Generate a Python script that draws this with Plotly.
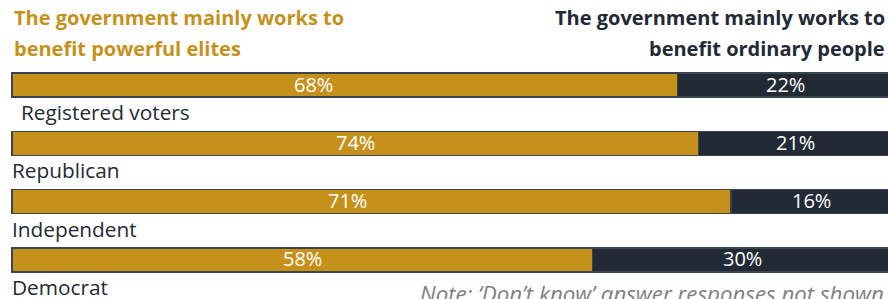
import plotly.graph_objects as go

categories = ["Registered voters", "Republican", "Independent", "Democrat"]
elites = [68, 74, 71, 58]
ordinary = [22, 21, 16, 30]
title_left = ["The government mainly works to", "benefit powerful elites"]
title_right = ["The government mainly works to", "benefit ordinary people"]
note = "Note: \u2018Don\u2019t know\u2019 answer responses not shown"

GOLD = "#C6911A"
DARK = "#222A35"
EDGE = "#3B4552"
TXT = "#222A35"
FONT = "Open Sans"

tot = [e + o for e, o in zip(elites, ordinary)]
e_n = [e / t * 100 for e, t in zip(elites, tot)]
o_n = [o / t * 100 for o, t in zip(ordinary, tot)]

fig = go.Figure()
fig.add_bar(y=categories, x=e_n, orientation="h", marker=dict(color=GOLD, line=dict(color=EDGE, width=1.5)),
            width=0.41, hoverinfo="skip")
fig.add_bar(y=categories, x=o_n, orientation="h", marker=dict(color=DARK, line=dict(color=EDGE, width=1.5)),
            width=0.41, hoverinfo="skip")

ann = []
label_shift = [-31, 0, -24, 0]
for i, c in enumerate(categories):
    ann.append(dict(x=e_n[i] / 2, y=c, text=f"{elites[i]}%", showarrow=False, xshift=label_shift[i], yshift=1,
                    font=dict(family=FONT, size=20, color="white")))
    ann.append(dict(x=e_n[i] + o_n[i] / 2, y=c, text=f"{ordinary[i]}%", showarrow=False, yshift=1,
                    font=dict(family=FONT, size=20, color="white")))
    ann.append(dict(x=0, y=c, text=c, showarrow=False, xanchor="left", yshift=-27, xshift=(7 if i == 0 else -2),
                    font=dict(family=FONT, size=20.8, color=TXT)))

for j, (tl, tr) in enumerate(zip(title_left, title_right)):
    yy = 1 - (18 + 30 * j) / 299
    ann.append(dict(xref="paper", yref="paper", x=12 / 888, y=yy, text=f"<b>{tl}</b>", showarrow=False,
                    xanchor="left", yanchor="middle", font=dict(family=FONT, size=20, color=GOLD)))
    ann.append(dict(xref="paper", yref="paper", x=887 / 888, y=yy, text=f"<b>{tr}</b>", showarrow=False,
                    xanchor="right", yanchor="middle", font=dict(family=FONT, size=20, color=TXT)))

ann.append(dict(xref="paper", yref="paper", x=886 / 888, y=1 - 293 / 299, text=f"<i>{note}</i>", showarrow=False,
                xanchor="right", yanchor="middle", font=dict(family=FONT, size=22.3, color="#7F7F7F")))

px_per = 8.81
a = -12 / px_per
b = a + 888 / px_per
ppu = 58.33
fig.update_layout(
    width=888, height=299, margin=dict(l=0, r=0, t=0, b=0),
    paper_bgcolor="white", plot_bgcolor="white", barmode="stack", showlegend=False,
    xaxis=dict(range=[a, b], visible=False),
    yaxis=dict(range=[(299 - 85) / ppu, -85 / ppu], visible=False, categoryorder="array", categoryarray=categories),
    annotations=ann,
)
fig.write_html("out.html", config={"displayModeBar": False},
               post_script="document.body.style.margin='0';document.body.style.overflow='hidden';")
